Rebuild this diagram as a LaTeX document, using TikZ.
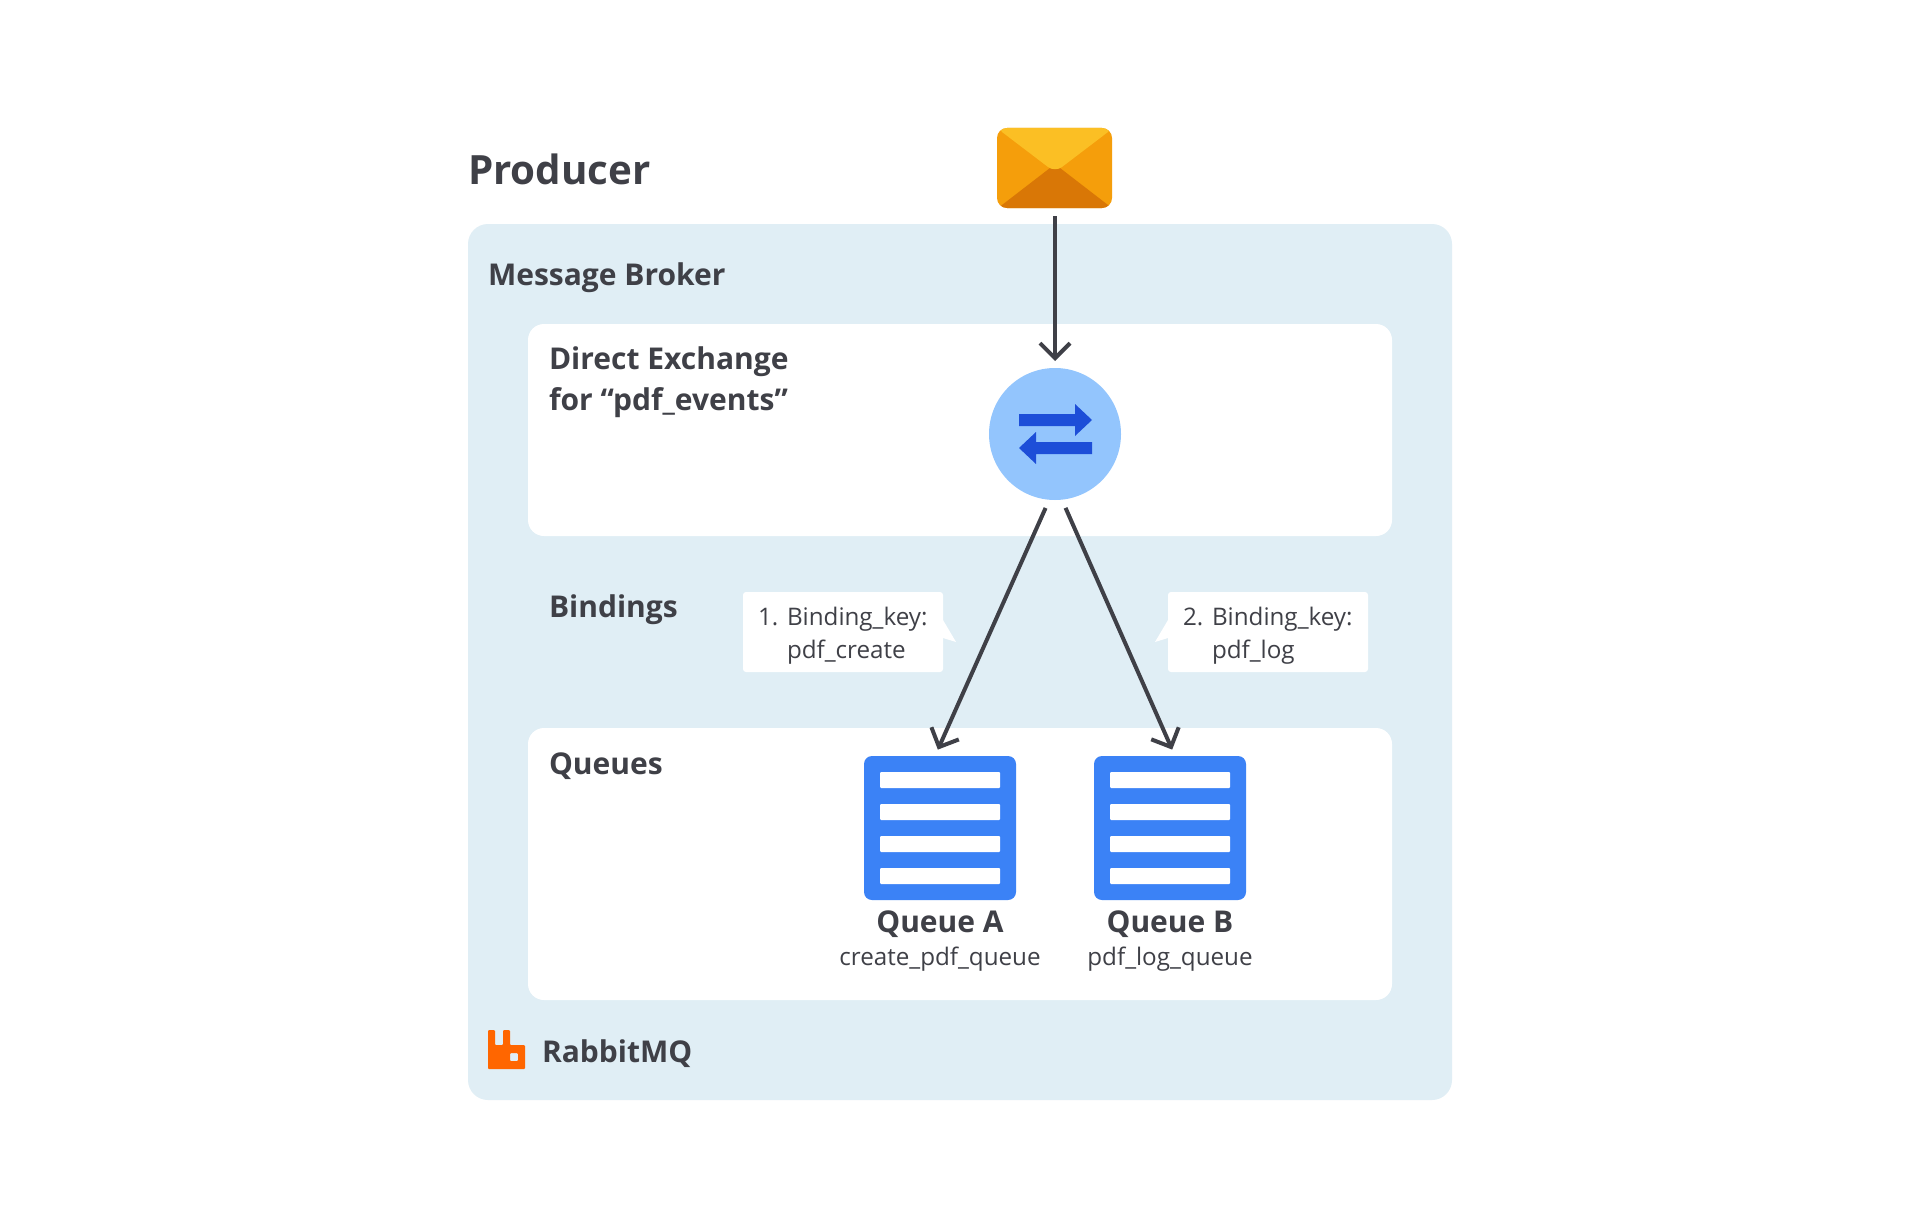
\documentclass[tikz,border=0pt]{standalone}
\usepackage{fontspec}
\setmainfont{Open Sans}
\usetikzlibrary{arrows.meta,calc}
\definecolor{ink}{HTML}{3F4047}
\definecolor{panel}{HTML}{E0EEF5}
\definecolor{ora}{HTML}{F59E0B}
\definecolor{oratop}{HTML}{FBBF24}
\definecolor{orabot}{HTML}{D97706}
\definecolor{circ}{HTML}{93C5FD}
\definecolor{arrowb}{HTML}{1D4ED8}
\definecolor{queueb}{HTML}{3B82F6}
\definecolor{rabbit}{HTML}{FF6600}
\tikzset{
  box/.style={inner sep=0pt,outer sep=0pt,anchor=north west},
  whitepanel/.style={box,fill=white,rounded corners=16pt},
  callout/.style={box,fill=white,rounded corners=3pt,minimum width=200pt,minimum height=80pt},
  queuebox/.style={box,fill=queueb,rounded corners=8pt,minimum width=152pt,minimum height=144pt},
  bar/.style={box,fill=white,rounded corners=1pt,minimum height=16pt},
  conn/.style={draw=ink,line width=4pt,-{Straight Barb[length=15pt,width=30pt,line width=4pt]}},
  lab/.style={inner sep=0pt,outer sep=0pt,anchor=base west,text=ink},
  labc/.style={inner sep=0pt,outer sep=0pt,anchor=base,text=ink},
  big/.style={font=\fontsize{40.3}{48}\selectfont\bfseries},
  mid/.style={font=\fontsize{30}{36}\selectfont\bfseries},
  small/.style={font=\fontsize{24.2}{30}\selectfont},
}
\begin{document}
\begin{tikzpicture}[x=1pt,y=-1pt]
\path[use as bounding box,fill=white] (0,0) rectangle (1920,1228);
% panels
\node[box,fill=panel,rounded corners=20pt,minimum height=876pt,minimum width=984pt] (broker) at (468,224) {};
\node[whitepanel,minimum width=864pt,minimum height=212pt] (exbox) at (528,324) {};
\node[whitepanel,minimum width=864pt,minimum height=272pt] (qbox) at (528,728) {};
% titles
\node[lab,big] (producer) at (468,184) {Producer};
\node[lab,mid] (mb) at (488,285) {Message Broker};
\node[lab,mid] (de1) at (549,369) {Direct Exchange};
\node[lab,mid] (de2) at (549,410) {for “pdf\_events”};
\node[lab,mid] (bind) at (549,617) {Bindings};
\node[lab,mid] (qs) at (549,774) {Queues};
% envelope
\node[box,fill=ora,rounded corners=10pt,minimum width=115pt,minimum height=80pt] (env) at (997,128) {};
\begin{scope}
\clip[rounded corners=10pt] (997,128) rectangle (1112,208);
\fill[orabot] (997,208.5) -- (1002,205) -- (1050,168) -- (1060,168) -- (1108,205) -- (1112,208.5) -- cycle;
\fill[oratop] (997,124) -- (1002,132) -- (1048,167) .. controls (1052,170) and (1058,170) .. (1062,167) -- (1108,132) -- (1112,124) -- cycle;
\end{scope}
% exchange
\node[circle,fill=circ,inner sep=0pt,outer sep=0pt,minimum size=132pt] (ex) at (1055,434) {};
\fill[arrowb] (1019,414) -- (1075,414) -- (1075,404) -- (1092,420) -- (1075,436) -- (1075,426) -- (1019,426) -- cycle;
\fill[arrowb] (1092,442) -- (1036,442) -- (1036,432) -- (1019,448) -- (1036,464) -- (1036,454) -- (1092,454) -- cycle;
% callouts
\fill[white] (943,620) -- (956,642) -- (943,638) -- cycle;
\fill[white] (1168,620) -- (1155,642) -- (1168,638) -- cycle;
\node[callout] (c1) at (743,592) {};
\node[callout] (c2) at (1168,592) {};
\node[lab,small] (c1n) at (758,625) {1.};
\node[lab,small] (c1a) at (787,625) {Binding\_key:};
\node[lab,small] (c1b) at (787,658) {pdf\_create};
\node[lab,small] (c2n) at (1183,625) {2.};
\node[lab,small] (c2a) at (1212,625) {Binding\_key:};
\node[lab,small] (c2b) at (1212,658) {pdf\_log};
% queues
\node[queuebox] (qa) at (864,756) {};
\node[queuebox] (qb) at (1094,756) {};
\foreach \y in {772,804,836,868} {
  \node[bar,minimum width=120pt] at (880,\y) {};
  \node[bar,minimum width=120pt] at (1110,\y) {};
}
\node[labc,mid] (qal) at (940,932) {Queue A};
\node[labc,small] (qas) at (940,965) {create\_pdf\_queue};
\node[labc,mid] (qbl) at (1170,932) {Queue B};
\node[labc,small] (qbs) at (1170,965) {pdf\_log\_queue};
% connectors
\draw[conn,shorten <=8pt,shorten >=7pt] (env.south -| ex.north) -- (ex.north);
\draw[conn,shorten <=9pt,shorten >=7pt] (ex.-95) -- ($(qa.north)+(-5,0)$);
\draw[conn,shorten <=9pt,shorten >=7pt] (ex.-84) -- ($(qb.north)+(5,0)$);
% logo
\node[lab,font=\fontsize{30}{36}\selectfont\bfseries] (rmq) at (542,1062) {RabbitMQ};
\fill[rabbit,even odd rule,rounded corners=1pt] (488,1050) -- (488,1069) -- (525,1069) -- (525,1045) -- (510,1045) -- (510,1030) -- (503,1030) -- (503,1045) -- (495,1045) -- (495,1030) -- (488,1030) -- cycle
  (510,1053) rectangle (518,1061);
\end{tikzpicture}
\end{document}
